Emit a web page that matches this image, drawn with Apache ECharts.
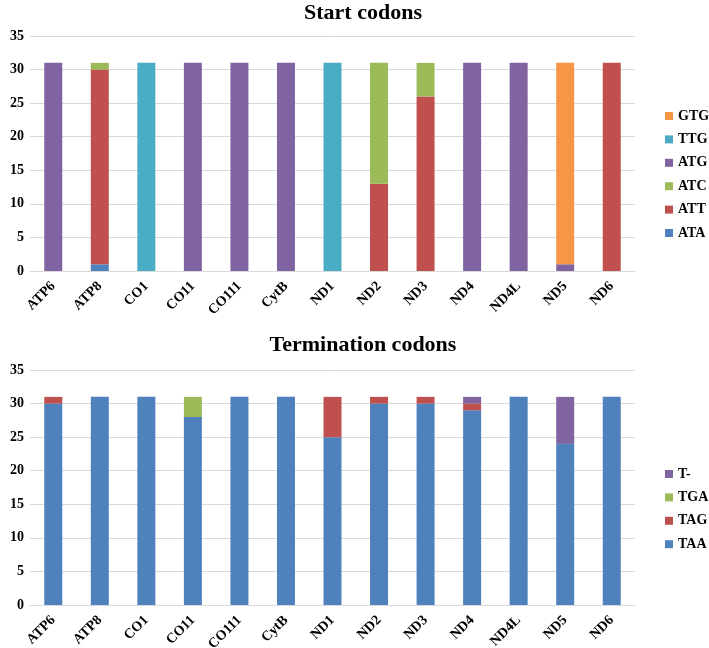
<!DOCTYPE html>
<html><head><meta charset="utf-8">
<script src="https://cdn.jsdelivr.net/npm/echarts@6/dist/echarts.min.js"></script>
<style>html,body{margin:0;padding:0;background:#fff}#c{width:709px;height:648px}</style>
</head><body><div id="c"></div>
<script>
const genes = ["ATP6","ATP8","CO1","CO11","CO111","CytB","ND1","ND2","ND3","ND4","ND4L","ND5","ND6"];
const yTicks = [0,5,10,15,20,25,30,35];
// Start codons
const ATA = [0,1,0,0,0,0,0,0,0,0,0,0,0];
const ATT = [0,29,0,0,0,0,0,13,26,0,0,0,31];
const ATC = [0,1,0,0,0,0,0,18,5,0,0,0,0];
const ATG = [31,0,0,31,31,31,0,0,0,31,31,1,0];
const TTG = [0,0,31,0,0,0,31,0,0,0,0,0,0];
const GTG = [0,0,0,0,0,0,0,0,0,0,0,30,0];
// Termination codons
const TAA = [30,31,31,28,31,31,25,30,30,29,31,24,31];
const TAG = [1,0,0,0,0,0,6,1,1,1,0,0,0];
const TGA = [0,0,0,3,0,0,0,0,0,0,0,0,0];
const Tdash = [0,0,0,0,0,0,0,0,0,1,0,7,0];

const startSeries = [["ATA",ATA,"#4F81BD"],["ATT",ATT,"#C0504D"],["ATC",ATC,"#9BBB59"],["ATG",ATG,"#8064A2"],["TTG",TTG,"#4BACC6"],["GTG",GTG,"#F79646"]];
const termSeries = [["TAA",TAA,"#4F81BD"],["TAG",TAG,"#C0504D"],["TGA",TGA,"#9BBB59"],["T-",Tdash,"#8064A2"]];

const font = "'Liberation Serif','Times New Roman',serif";
function xAxis(i){return {type:'category',gridIndex:i,data:genes,axisTick:{show:false},
  axisLine:{lineStyle:{color:'#d9d9d9'}},
  axisLabel:{rotate:45,interval:0,fontFamily:font,fontWeight:'bold',fontSize:14,color:'#000',margin:13}};}
function yAxis(i){return {type:'value',gridIndex:i,min:yTicks[0],max:yTicks[yTicks.length-1],interval:5,
  axisLine:{show:false},axisTick:{show:false},splitLine:{lineStyle:{color:'#d9d9d9'}},
  axisLabel:{fontFamily:font,fontWeight:'bold',fontSize:14,color:'#000',margin:6}};}
const series=[];
startSeries.forEach(s=>series.push({name:s[0],type:'bar',stack:'s',xAxisIndex:0,yAxisIndex:0,barWidth:18,data:s[1],itemStyle:{color:s[2]}}));
termSeries.forEach(s=>series.push({name:s[0],type:'bar',stack:'t',xAxisIndex:1,yAxisIndex:1,barWidth:18,data:s[1],itemStyle:{color:s[2]}}));
function legend(names,top){return {orient:'vertical',left:660,top:top,itemWidth:8,itemHeight:8,itemGap:9.4,icon:'rect',
  data:names.slice().reverse(),textStyle:{fontFamily:font,fontWeight:'bold',fontSize:14,color:'#000'}};}
const chart=echarts.init(document.getElementById('c'));
chart.setOption({
  animation:false,
  title:[{text:'Start codons',left:358,textAlign:'center',top:-3,textStyle:{fontFamily:font,fontWeight:'bold',fontSize:22,color:'#000'}},
         {text:'Termination codons',left:358,textAlign:'center',top:329,textStyle:{fontFamily:font,fontWeight:'bold',fontSize:22,color:'#000'}}],
  grid:[{left:30,width:605,top:36,height:235,containLabel:false,outerBoundsMode:'none'},
        {left:30,width:605,top:370,height:235,containLabel:false,outerBoundsMode:'none'}],
  xAxis:[xAxis(0),xAxis(1)],
  yAxis:[yAxis(0),yAxis(1)],
  legend:[legend(startSeries.map(s=>s[0]),104),legend(termSeries.map(s=>s[0]),462)],
  series:series
});
</script></body></html>
